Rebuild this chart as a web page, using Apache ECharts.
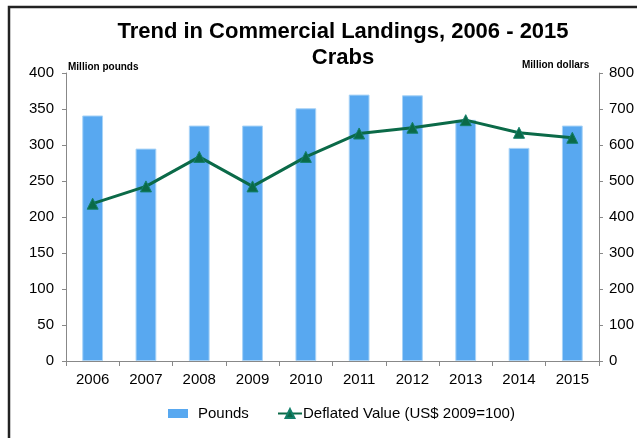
<!DOCTYPE html>
<html>
<head>
<meta charset="utf-8">
<script src="https://cdn.jsdelivr.net/npm/echarts@6/dist/echarts.min.js"></script>
<style>
html,body{margin:0;padding:0;background:#fff}
#chart{width:637px;height:438px}
</style>
</head>
<body>
<div id="chart"></div>
<script>
// data
const years=['2006','2007','2008','2009','2010','2011','2012','2013','2014','2015']
const pounds=[341,295,327,327,351,370,369,335,296,327]
const deflatedValue=[437,485,567,485,567,632,648,669,634,620]

const chart=echarts.init(document.getElementById('chart'))
const font='"Liberation Sans", Arial, sans-serif'
const barColor='#58a8f0',lineColor='#0b6a48'

chart.setOption({
	animation:false,
	textStyle:{fontFamily:font},
	title:{
		text:'Trend in Commercial Landings, 2006 - 2015\nCrabs',
		left:338,
		top:14,
		textAlign:'center',
		textStyle:{fontSize:22,fontWeight:'bold',color:'#000',lineHeight:26,fontFamily:font}
	},
	graphic:[
		{type:'rect',shape:{x:9,y:7,width:700,height:500},style:{fill:'none',stroke:'#222',lineWidth:2.5},silent:true},
		{type:'text',left:68,top:62,style:{text:'Million pounds',font:'bold 10px '+font,fill:'#000'}},
		{type:'text',left:522,top:60,style:{text:'Million dollars',font:'bold 10px '+font,fill:'#000'}}
	],
	grid:{left:66,right:37,top:73,bottom:77},
	legend:[
		{
			bottom:12,
			left:163,
			itemGap:10,
			textStyle:{fontSize:15,color:'#000',fontFamily:font,padding:[0,0,0,5]},
			data:[{name:'Pounds',icon:'rect',itemStyle:{color:barColor,borderWidth:0}}],
			itemWidth:20,
			itemHeight:9
		},
		{
			bottom:12,
			left:272,
			textStyle:{fontSize:15,color:'#000',fontFamily:font,padding:[0,0,0,-4]},
			data:[{name:'Deflated Value (US$ 2009=100)'}],
			itemWidth:24,
			itemHeight:11
		}
	],
	xAxis:{
		type:'category',
		data:years,
		axisLine:{lineStyle:{color:'#888'}},
		axisTick:{show:true,length:5,lineStyle:{color:'#888'}},
		axisLabel:{fontSize:15,color:'#000',margin:11}
	},
	yAxis:[
		{
			type:'value',min:0,max:400,interval:50,
			axisLine:{show:true,lineStyle:{color:'#888'}},
			axisTick:{show:true,length:4,lineStyle:{color:'#888'}},
			axisLabel:{fontSize:15,color:'#000',margin:12},
			splitLine:{show:false}
		},
		{
			type:'value',min:0,max:800,interval:100,position:'right',
			axisLine:{show:true,lineStyle:{color:'#888'}},
			axisTick:{show:true,length:4,lineStyle:{color:'#888'}},
			axisLabel:{fontSize:15,color:'#000',margin:10},
			splitLine:{show:false}
		}
	],
	series:[
		{
			name:'Pounds',
			type:'bar',
			data:pounds,
			barWidth:'39%',
			itemStyle:{color:barColor,borderColor:'#a8d3f7',borderWidth:1}
		},
		{
			name:'Deflated Value (US$ 2009=100)',
			type:'line',
			yAxisIndex:1,
			data:deflatedValue,
			symbol:'triangle',
			symbolSize:11,
			lineStyle:{color:lineColor,width:3},
			itemStyle:{color:lineColor,borderColor:'#13806a',borderWidth:1}
		}
	]
})
</script>
</body>
</html>
